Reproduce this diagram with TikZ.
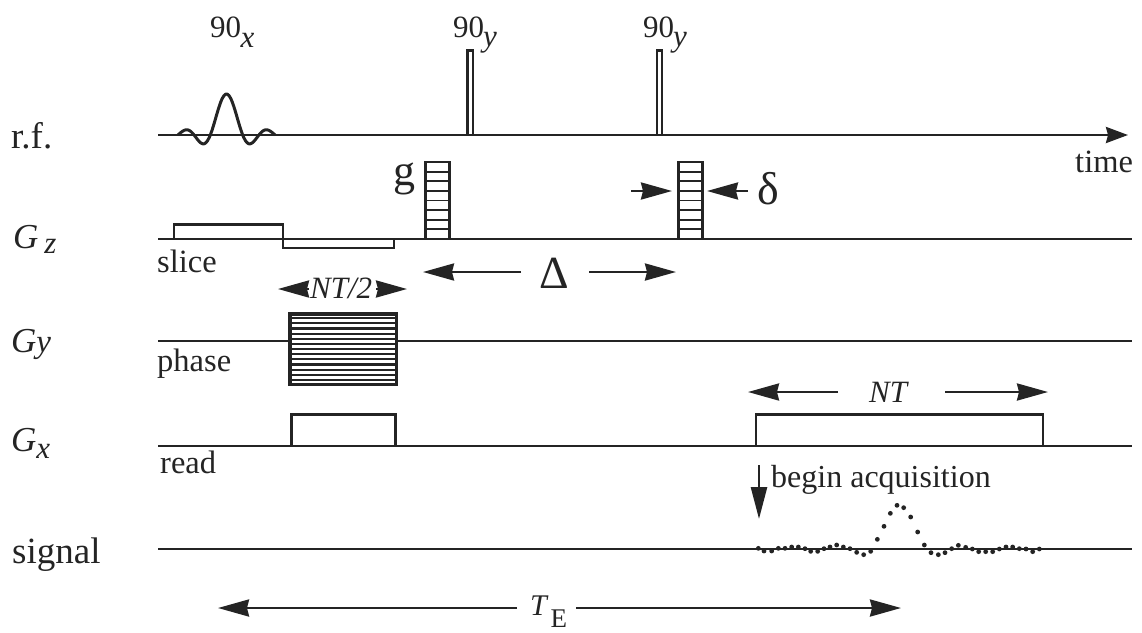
\documentclass[tikz,border=0pt]{standalone}
\usepackage{fontspec}
\setmainfont{Liberation Serif}
\usetikzlibrary{arrows.meta}
\definecolor{ink}{gray}{0.14}
\tikzset{
  axisline/.style={draw=ink,line width=2.6pt},
  pulse/.style={draw=ink,line width=2.6pt},
  rung/.style={draw=ink,line width=1.8pt},
  bigtip/.style={draw=ink,line width=2.6pt,-{Stealth[length=31pt,width=17pt,inset=2pt]}},
  lbl/.style={inner sep=0pt,text=ink,font=\fontsize{37}{40}\selectfont,anchor=base west},
  sm/.style={inner sep=0pt,text=ink,font=\fontsize{32.5}{36}\selectfont,anchor=base west},
  pname/.style={inner sep=0pt,text=ink,font=\fontsize{31}{34}\selectfont,anchor=base west},
  gname/.style={inner sep=0pt,text=ink,font=\fontsize{35}{38}\selectfont\itshape,anchor=base west},
}
\begin{document}
\begin{tikzpicture}[x=1pt,y=-1pt]
\useasboundingbox (0,0) rectangle (1142,632);
% axis ends
\coordinate (rfA) at (158,135); \coordinate (rfB) at (1128,135);
\coordinate (zA) at (158,239); \coordinate (zB) at (1132,239);
\coordinate (yA) at (158,341); \coordinate (yB) at (1132,341);
\coordinate (xA) at (158,446); \coordinate (xB) at (1132,446);
\coordinate (sA) at (158,549); \coordinate (sB) at (1132,549);
\draw[axisline,-{Stealth[length=22pt,width=16pt,inset=2pt]}] (rfA) -- (rfB);
\draw[axisline] (zA) -- (zB);
\draw[axisline] (yA) -- (yB);
\draw[axisline] (xA) -- (xB);
\draw[axisline] (sA) -- (sB);
% sinc pulse
\draw[draw=ink,line width=3pt,line join=round] plot[smooth,samples=60,domain=-3:3] ({226.5+16.2*\x},{135-41*sin(180*\x)/(3.14159*\x)});
% hard pulses
\draw[pulse] (467.5,135) -- (467.5,50.5) -- (473,50.5) -- (473,135);
\draw[pulse] (657,135) -- (657,50.5) -- (662,50.5) -- (662,135);
% gradient blocks
\foreach \xa/\xb in {425.5/449.5,678.5/702.5}{
  \draw[pulse] (\xa,239) -- (\xa,162) -- (\xb,162) -- (\xb,239);
  \foreach \k in {1,...,7}{\draw[rung] (\xa,{162+9.6*\k}) -- (\xb,{162+9.6*\k});}
}
% slice
\draw[pulse] (174,239) -- (174,224.5) -- (283,224.5) -- (283,248) -- (394,248) -- (394,239);
% phase table
\fill[white] (289,313) rectangle (397,385);
\foreach \k in {1,...,13}{\draw[draw=ink,line width=2.2pt] (289,{313+5.15*\k}) -- (397,{313+5.15*\k});}
\draw[draw=ink,line width=3.4pt] (290,314) rectangle (396.5,384.5);
% read
\draw[pulse] (291.5,446) -- (291.5,414.5) -- (395.5,414.5) -- (395.5,446);
\draw[pulse] (756,446) -- (756,414.5) -- (1043,414.5) -- (1043,446);
% labels
\node[lbl] (lrf) at (11,148) {r.f.};
\node[gname] (lgz) at (13,248) {G\kern6pt\raisebox{-5pt}{\fontsize{31}{34}\selectfont z}};
\node[gname] (lgy) at (11,352) {G\fontsize{33}{36}\selectfont y};
\node[gname] (lgx) at (11,451) {G\raisebox{-7pt}{\fontsize{31}{34}\selectfont x}};
\node[lbl] (lsg) at (12,563) {signal};
\node[sm] (lsl) at (157,272) {slice};
\node[sm] (lph) at (157,371) {phase};
\node[sm] (lrd) at (160,473) {read};
\node[sm] (ltm) at (1075,172) {time};
\node[pname] (p1) at (210,37) {90\kern-0.5pt\raisebox{-10pt}{\textit{x}}};
\node[pname] (p2) at (453,37) {90\kern-1pt\raisebox{-9pt}{\textit{y}}};
\node[pname] (p3) at (643,37) {90\kern-1pt\raisebox{-9pt}{\textit{y}}};
\node[inner sep=0pt,text=ink,font=\fontsize{44}{48}\selectfont,anchor=base west] (lg) at (393,185) {g};
\node[inner sep=0pt,text=ink,font=\fontsize{46}{50}\selectfont,anchor=base west] (ldl) at (757,204) {δ};
\node[inner sep=0pt,text=ink,font=\fontsize{46}{50}\selectfont,anchor=base] (lD) at (554,288) {Δ};
\node[pname] (lnth) at (310,298) {\textit{NT/2}};
\node[pname] (lnt) at (869,402) {\textit{NT}};
\node[inner sep=0pt,text=ink,font=\fontsize{30}{34}\selectfont,anchor=base west] (lte) at (530,615) {\textit{T}\kern2pt\raisebox{-12pt}{\fontsize{27}{30}\selectfont E}};
\node[sm,font=\fontsize{32}{36}\selectfont] (lbg) at (771,487) {begin acquisition};
% arrows
\coordinate (dLa) at (631,191); \coordinate (dLb) at (672,191);
\coordinate (dRa) at (748,191); \coordinate (dRb) at (707,191);
\draw[bigtip] (dLa) -- (dLb);
\draw[bigtip] (dRa) -- (dRb);
\coordinate (DLs) at (521,272); \coordinate (DLt) at (423,272);
\coordinate (DRs) at (589,272); \coordinate (DRt) at (676,272);
\draw[bigtip] (DLs) -- (DLt);
\draw[bigtip] (DRs) -- (DRt);
\coordinate (nhLs) at (309,289); \coordinate (nhL) at (278,289);
\coordinate (nhRs) at (376,289); \coordinate (nhR) at (407,289);
\draw[bigtip] (nhLs) -- (nhL);
\draw[bigtip] (nhRs) -- (nhR);
\coordinate (ntLs) at (838,392); \coordinate (ntL) at (748,392);
\coordinate (ntRs) at (945,392); \coordinate (ntR) at (1048,392);
\draw[bigtip] (ntLs) -- (ntL);
\draw[bigtip] (ntRs) -- (ntR);
\coordinate (teLs) at (517,608); \coordinate (teL) at (218,608);
\coordinate (teRs) at (576,608); \coordinate (teR) at (901,608);
\draw[bigtip] (teLs) -- (teL);
\draw[bigtip] (teRs) -- (teR);
\coordinate (bgA) at (759,465); \coordinate (bgB) at (759,519);
\draw[draw=ink,line width=2.6pt,-{Stealth[length=32pt,width=16pt,inset=0pt]}] (bgA) -- (bgB);
% signal dots
\foreach \zx/\zy in {55/295,72/303,95/303,115/295,135/295,155/291,175/291,195/296,212/304,233/304,252/296,270/291,290/285,310/291,330/296,350/307,371/314,392/304,412/268,432/229,451/190,471/166,491/173,512/201,533/246,553/285,573/308,595/314,615/308,635/296,655/286,677/292,697/297,716/305,737/305,758/305,778/297,798/291,818/291,838/296,858/297,878/305,898/297}{
  \fill[ink] ({740+\zx/3},{450+\zy/3}) circle (2.4pt);
}
\end{tikzpicture}
\end{document}
